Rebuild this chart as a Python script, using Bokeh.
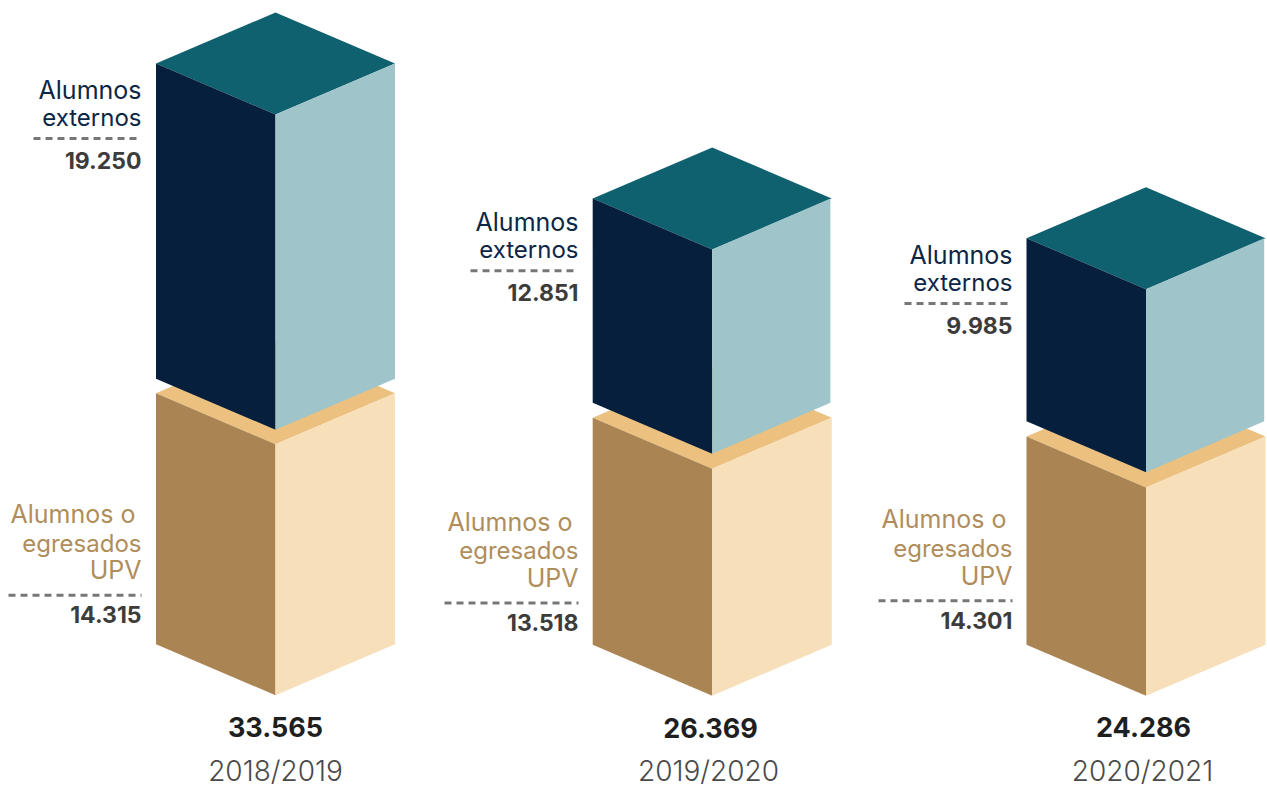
from bokeh.plotting import figure
from bokeh.models import Range1d
from bokeh.core.properties import value
from bokeh.embed import file_html
from bokeh.resources import INLINE

# ---- data
years = ["2018/2019", "2019/2020", "2020/2021"]
externos = ["19.250", "12.851", "9.985"]
egresados = ["14.315", "13.518", "14.301"]
totales = ["33.565", "26.369", "24.286"]
label_externos = ["Alumnos", "externos"]
label_egresados = ["Alumnos o", "egresados", "UPV"]

# ---- layout (page pixels of the reference)
W, H = 1267, 787
bar_center = [275.0, 711.7, 1145.5]
bar_half_w = 119.5
bar_depth = 51.0
ground_side = [643.7, 644.2, 644.2]     # lower box: bottom of the side edges
egresados_h = [251.0, 227.0, 208.2]     # drawn height of the lower box
gap_side = [378.2, 402.3, 420.7]        # upper box: bottom of the side edges
externos_h = [315.2, 204.3, 183.0]      # drawn height of the upper box
light_inset = [0.0, 1.3, 1.3]
text_right = [141.0, 578.0, 1012.0]
line_ext_y = [138.0, 270.3, 303.0]
line_ext_x0 = [33.0, 470.0, 904.0]
line_egr_y = [594.7, 602.5, 600.2]
line_egr_x0 = [8.0, 444.0, 878.0]
total_x = [275.0, 710.0, 1143.0]
total_base = [735.0, 735.5, 735.0]
year_x = [275.0, 708.0, 1142.0]
year_base = [778.5, 778.5, 778.5]
TEXT_FIX = -8.5

C_TOP, C_DARK, C_LIGHT = "#0f6170", "#051f3d", "#9fc5ca"
C_TTOP, C_TLEFT, C_TRIGHT = "#ecc07f", "#aa8553", "#f7dfba"
C_LBL_E, C_LBL_T, C_VAL, C_TOTAL, C_YEAR, C_DASH = "#0d2645", "#b08d5b", "#3c3c3b", "#1f1f1f", "#4a4a4a", "#77777a"
FONT = "Inter"
FONT_LIGHT = "Inter Light"

p = figure(width=W, height=H, output_backend="svg", toolbar_location=None,
           x_range=Range1d(0, W), y_range=Range1d(H, 0),
           x_axis_location=None, y_axis_location=None, min_border=0)
p.grid.visible = False
p.outline_line_color = None
p.background_fill_color = "white"
p.border_fill_color = "white"


def face(xs, ys, color):
    p.patch(xs, ys, fill_color=color, line_color=None)


def box(cx, side_bottom, height, c_top, c_left, c_right, inset=0.0):
    l, r = cx - bar_half_w, cx + bar_half_w
    side_top = side_bottom - height
    face([l, cx, r, cx], [side_top, side_top - bar_depth, side_top, side_top + bar_depth], c_top)
    face([l, cx, cx, l], [side_top, side_top + bar_depth, side_bottom + bar_depth, side_bottom], c_left)
    face([cx, r - inset, r - inset, cx], [side_top + bar_depth, side_top, side_bottom, side_bottom + bar_depth], c_right)


def label(x, y, txt, size, color, font=FONT, style="normal", align="right"):
    p.text([x], [y + TEXT_FIX], text=[txt], text_font=value(font), text_font_size=size, text_font_style=style,
           text_color=color, text_align=align, text_baseline="alphabetic", text_line_height=1.0)


for i in range(3):
    box(bar_center[i], ground_side[i], egresados_h[i], C_TTOP, C_TLEFT, C_TRIGHT)
    box(bar_center[i], gap_side[i], externos_h[i], C_TOP, C_DARK, C_LIGHT, light_inset[i])

    right = text_right[i]
    p.line([line_ext_x0[i], right], [line_ext_y[i]] * 2, line_color=C_DASH, line_width=3, line_dash="7 5")
    p.line([line_egr_x0[i], right], [line_egr_y[i]] * 2, line_color=C_DASH, line_width=3, line_dash="7 5")

    y0 = line_ext_y[i]
    label(right, y0 - 40.5, label_externos[0], "25px", C_LBL_E)
    label(right, y0 - 13.0, label_externos[1], "24px", C_LBL_E)
    label(right, y0 + 30.5, externos[i], "23px", C_VAL, style="bold")

    y1 = line_egr_y[i]
    label(right - 6, y1 - 73.0, label_egresados[0], "25px", C_LBL_T)
    label(right, y1 - 43.7, label_egresados[1], "24px", C_LBL_T)
    label(right, y1 - 16.7, label_egresados[2], "25px", C_LBL_T)
    label(right, y1 + 28.0, egresados[i], "23px", C_VAL, style="bold")

    label(total_x[i], total_base[i], totales[i], "27px", C_TOTAL, style="bold", align="center")
    label(year_x[i], year_base[i], years[i], "28px", C_YEAR, font=FONT_LIGHT, align="center")

open("out.html", "w").write(file_html(p, INLINE))
